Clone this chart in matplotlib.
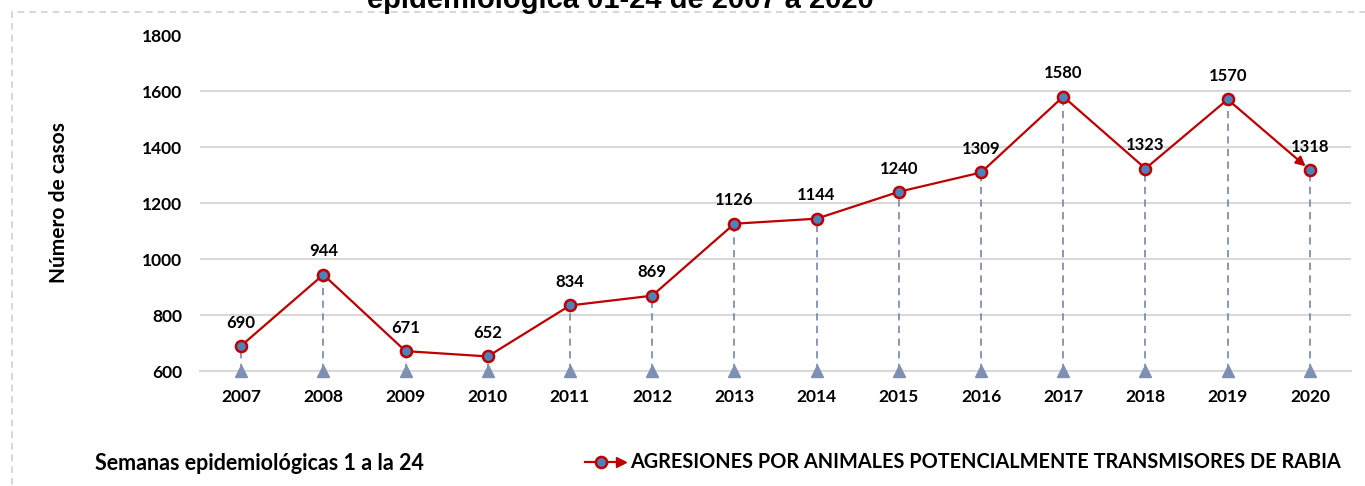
import matplotlib.pyplot as plt
from matplotlib.patches import Rectangle
from matplotlib.lines import Line2D

# data
years = ["2007", "2008", "2009", "2010", "2011", "2012", "2013",
         "2014", "2015", "2016", "2017", "2018", "2019", "2020"]
cases = [690, 944, 671, 652, 834, 869, 1126, 1144, 1240, 1309, 1580, 1323, 1570, 1318]
y_ticks = [600, 800, 1000, 1200, 1400, 1600, 1800]

title_txt = "epidemiológica 01-24 de 2007 a 2020"
serie_name = "AGRESIONES POR ANIMALES POTENCIALMENTE TRANSMISORES DE RABIA"
nota = "Semanas epidemiológicas 1 a la 24"

red = "#c00000"
blue = "#4f81bd"
drop = "#7f8fb3"

plt.rcParams['font.family'] = ['Lato', 'DejaVu Sans']

W, H = 1365, 486
fig = plt.figure(figsize=(W / 100, H / 100), dpi=100)

# dashed frame of the excel chart (only top and left visible)
fig.patches.append(Rectangle((12 / W, -0.1), 1.2, 1 - 12 / H + 0.1,
                             transform=fig.transFigure, fill=False,
                             ec="#cfcfcf", lw=1.2, ls=(0, (4, 3))))

ax = fig.add_axes([200 / W, (H - 371) / H, (1351 - 200) / W, (371 - 35) / H])
x = list(range(len(years)))

ax.set_xlim(-0.5, len(years) - 0.5)
ax.set_ylim(600, 1800)
ax.set_yticks(y_ticks)
ax.set_yticklabels([str(v) for v in y_ticks], fontweight="bold", fontsize=12.5)
ax.set_xticks(x)
ax.set_xticklabels(years, fontweight="bold", fontsize=12.5)
ax.tick_params(length=0, pad=13)
ax.tick_params(axis="y", pad=13)
for s in ["top", "right", "left"]:
    ax.spines[s].set_visible(False)
ax.spines["bottom"].set_color("#d9d9d9")
ax.spines["bottom"].set_linewidth(1.5)
ax.yaxis.grid(True, color="#d9d9d9", lw=1.5)
ax.yaxis.get_gridlines()[-1].set_visible(False)
ax.set_axisbelow(True)

# drop lines down to the axis
ax.vlines(x, 600, cases, colors=drop, linestyles=(0, (4, 3)), lw=1.3, zorder=2)
ax.plot(x, [600] * len(x), ls="none", marker="^", ms=8, color=drop,
        clip_on=False, zorder=3)

# the series, last segment ends in an arrow
ax.plot(x[:-1], cases[:-1], color=red, lw=1.6, zorder=4)
ax.annotate("", xy=(x[-1], cases[-1]), xytext=(x[-2], cases[-2]),
            arrowprops=dict(arrowstyle="-|>", color=red, lw=1.6,
                            mutation_scale=14, shrinkA=0, shrinkB=4), zorder=4)
ax.plot(x, cases, ls="none", marker="o", ms=8, mfc=blue, mec=red, mew=1.8,
        zorder=5, clip_on=False)

for xi, v in zip(x, cases):
    ax.annotate(str(v), (xi, v), xytext=(0, 11), textcoords="offset points",
                ha="center", va="bottom", fontsize=12, fontweight="bold")

ax.set_ylabel("Número de casos", fontsize=15, fontweight="bold", labelpad=52)

fig.text(620 / W, 1 - 8 / H, title_txt, ha="center", va="baseline",
         fontsize=21, fontweight="bold", family=["Liberation Sans", "DejaVu Sans"])

fig.text(95 / W, 1 - 463 / H, nota, ha="left", va="center",
         fontsize=15.5, fontweight="bold")

# legend entry drawn by hand at the bottom right
lx0, lx1, ly = 585 / W, 625 / W, 1 - 462 / H
fig.lines.append(Line2D([lx0, lx1 - 0.004], [ly, ly], transform=fig.transFigure,
                        color=red, lw=1.6))
fig.lines.append(Line2D([(lx0 + lx1) / 2 - 0.003], [ly], transform=fig.transFigure,
                        ls="none", marker="o", ms=8, mfc=blue, mec=red, mew=1.8))
fig.lines.append(Line2D([lx1 - 0.003], [ly], transform=fig.transFigure,
                        ls="none", marker=">", ms=7, color=red))
fig.text(630 / W, ly, serie_name, ha="left", va="center", fontsize=14.3,
         fontweight="bold")

fig.savefig("out.png", dpi=100)
